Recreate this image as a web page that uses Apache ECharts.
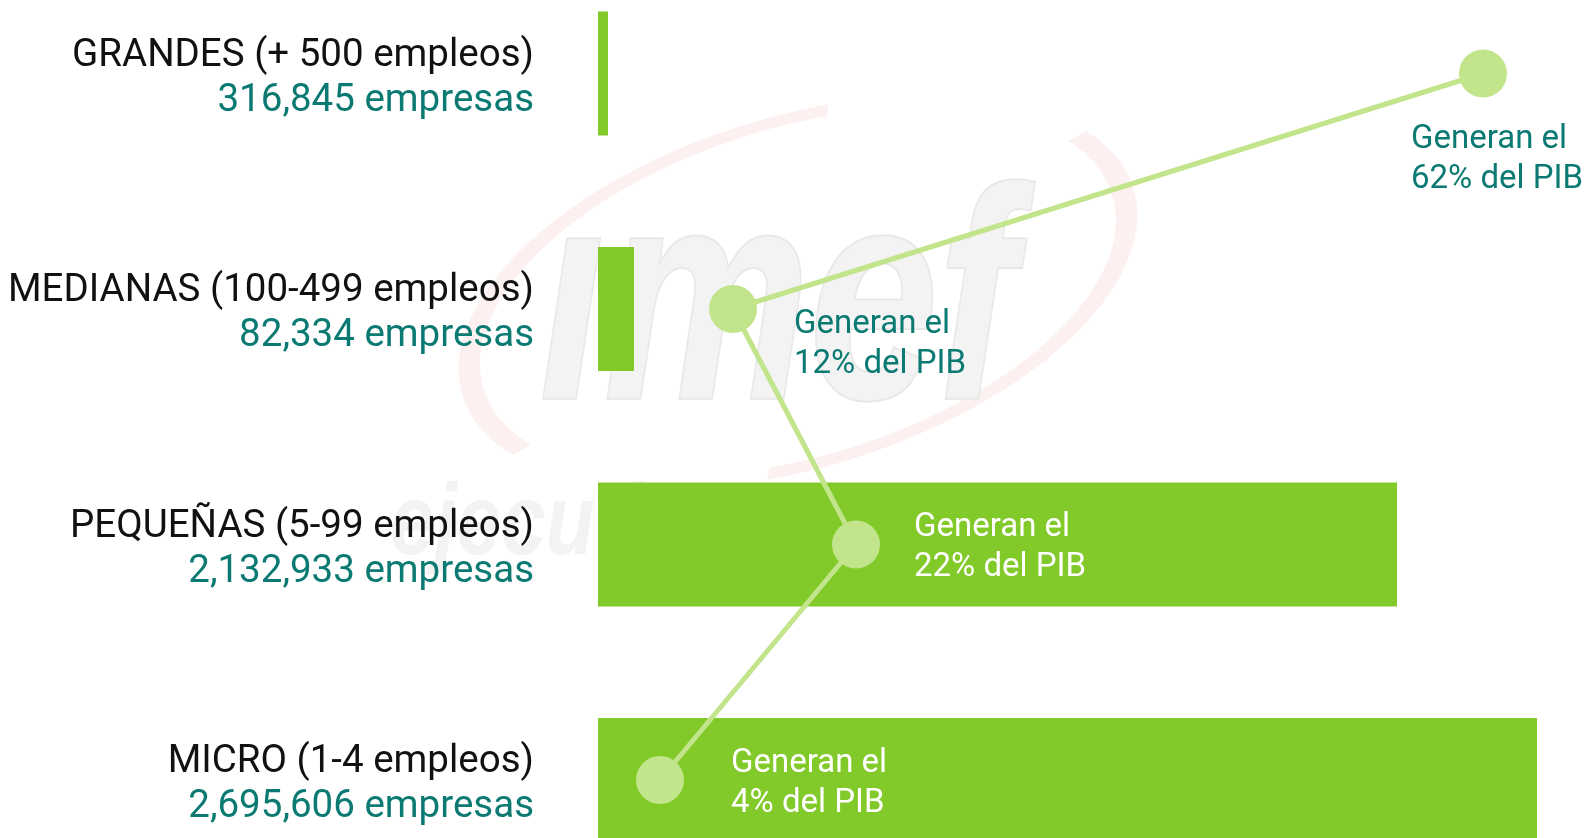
<!DOCTYPE html>
<html>
<head>
<meta charset="utf-8">
<title>Empresas y PIB</title>
<script src="https://cdn.jsdelivr.net/npm/echarts@6/dist/echarts.min.js"></script>
<style>
  html, body { margin: 0; padding: 0; background: #fff; }
  #main { width: 1594px; height: 838px; }
</style>
</head>
<body>
<div id="main"></div>
<script>
// categorias (de arriba hacia abajo)
var categorias = ['GRANDES (+ 500 empleos)', 'MEDIANAS (100-499 empleos)', 'PEQUEÑAS (5-99 empleos)', 'MICRO (1-4 empleos)'];
var empresas = ['316,845', '82,334', '2,132,933', '2,695,606'];
// largo de las barras tal como aparecen dibujadas (escala arbitraria 0-1000)
var largoBarra = [10, 36, 799, 939];
// % del PIB y posicion del punto sobre la misma escala
var pib = [62, 12, 22, 4];
var posPunto = [885, 135, 258, 62];

var verde = '#82c92a';
var verdeClaro = '#c2e48b';
var teal = '#0b7a72';

var myChart = echarts.init(document.getElementById('main'));

// donde va cada etiqueta "Generan el ..." respecto a su punto
var etiquetas = [
  { color: teal, distance: 0, offset: [-96, 86] },
  { color: teal, distance: 37, offset: [0, 36] },
  { color: '#fff', distance: 34, offset: [0, 3] },
  { color: '#fff', distance: 47, offset: [0, 4] }
];

var puntos = posPunto.map(function (v, i) {
  return {
    value: v,
    label: {
      show: true,
      position: 'right',
      distance: etiquetas[i].distance,
      offset: etiquetas[i].offset,
      color: etiquetas[i].color,
      formatter: 'Generan el\n' + pib[i] + '% del PIB'
    }
  };
});

var option = {
  animation: false,
  backgroundColor: '#fff',
  graphic: [
    {
      // marca de agua: ovalo
      type: 'group',
      x: 798, y: 292,
      rotation: 0.3,
      scaleY: 0.5,
      z: 0,
      children: [
        { type: 'arc', shape: { cx: 0, cy: 0, r: 340, startAngle: 156 * Math.PI / 180, endAngle: 284 * Math.PI / 180 },
          style: { stroke: 'rgba(215,45,45,0.07)', lineWidth: 22, fill: null } },
        { type: 'arc', shape: { cx: 0, cy: 0, r: 340, startAngle: -23 * Math.PI / 180, endAngle: 104 * Math.PI / 180 },
          style: { stroke: 'rgba(215,45,45,0.07)', lineWidth: 22, fill: null } }
      ]
    },
    {
      type: 'text',
      x: 540, y: 465,
      scaleX: 0.77,
      z: 0,
      style: {
        text: 'ımef',
        font: 'italic bold 300px "Liberation Sans"',
        fill: '#f3f3f3',
        stroke: '#e8e8e8',
        lineWidth: 4,
        textAlign: 'left',
        textVerticalAlign: 'bottom'
      }
    },
    {
      type: 'text',
      x: 390, y: 526,
      scaleX: 0.8,
      z: 0,
      style: {
        text: 'ejecutivos',
        font: 'italic bold 100px "Liberation Sans"',
        fill: '#f3f3f3',
        textAlign: 'left',
        textVerticalAlign: 'middle'
      }
    }
  ],
  grid: { left: 598, width: 1000, top: -44.25, height: 942, outerBoundsMode: 'none', containLabel: false },
  xAxis: {
    type: 'value',
    min: 0,
    max: 1000,
    show: false
  },
  yAxis: {
    type: 'category',
    inverse: true,
    data: categorias,
    axisLine: { show: false },
    axisTick: { show: false },
    splitLine: { show: false },
    axisLabel: {
      margin: 64,
      padding: [10, 0, 0, 0],
      formatter: function (value, idx) {
        return '{a|' + value + '}\n{b|' + empresas[idx] + ' empresas}';
      },
      rich: {
        a: { fontFamily: 'Roboto', fontWeight: 'normal', fontSize: 38.5, color: '#111', lineHeight: 45, align: 'right' },
        b: { fontFamily: 'Roboto', fontWeight: 'normal', fontSize: 38.5, color: teal, lineHeight: 45, align: 'right' }
      }
    }
  },
  series: [
    {
      name: 'Empresas',
      type: 'bar',
      data: largoBarra,
      barWidth: 124,
      itemStyle: { color: verde },
      z: 2
    },
    {
      name: 'PIB',
      type: 'line',
      data: puntos,
      symbol: 'circle',
      symbolSize: 48,
      lineStyle: { color: verdeClaro, width: 5 },
      itemStyle: { color: verdeClaro },
      label: {
        fontFamily: 'Roboto',
        fontWeight: 'normal',
        fontSize: 33,
        lineHeight: 40
      },
      z: 3
    }
  ]
};

myChart.setOption(option);
</script>
</body>
</html>
